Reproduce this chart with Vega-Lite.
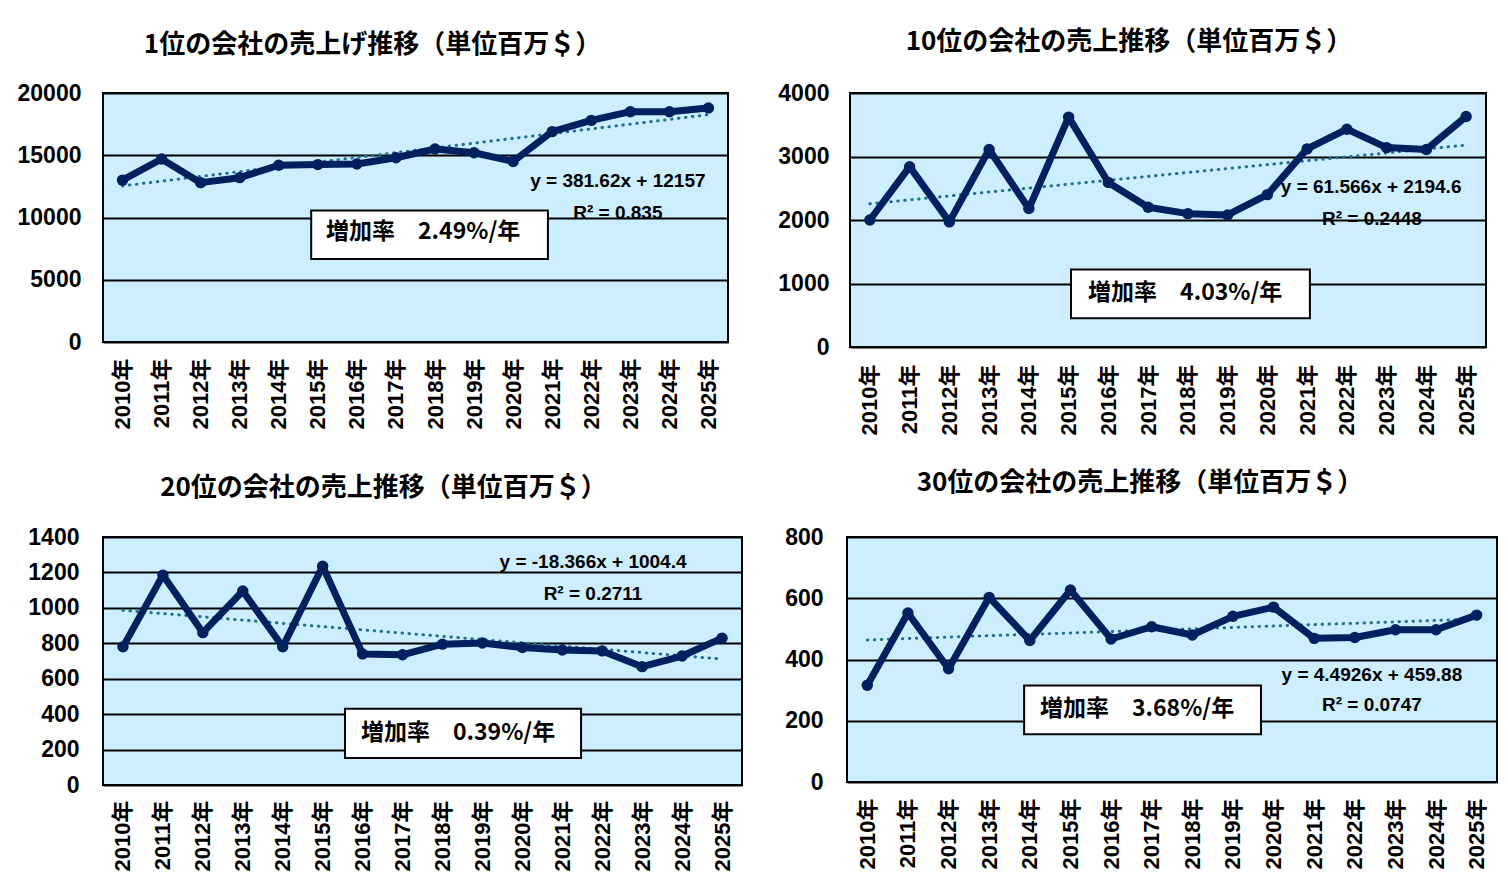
{
  "$schema": "https://vega.github.io/schema/vega-lite/v6.json",
  "padding": {"left": 16, "top": 28, "right": 5, "bottom": 5},
  "background": "white",
  "config": {
    "view": {"stroke": "black", "strokeWidth": 2, "fill": "#CCEEFF"},
    "axis": {"labelFont": "Liberation Sans, Noto Sans CJK JP", "labelFontWeight": "bold", "labelColor": "black", "domain": false, "ticks": false, "tickSize": 0, "title": null, "labelOverlap": false, "labelFlush": false, "labelBound": false},
    "axisY": {"grid": true, "gridColor": "black", "gridWidth": 2, "labelFontSize": 23},
    "axisX": {"grid": false, "labelFontSize": 22, "labelAngle": 270},
    "title": {"font": "Noto Sans CJK JP", "fontSize": 26, "fontWeight": "bold", "color": "black", "anchor": "middle", "frame": "group"},
    "text": {"font": "Liberation Sans", "fontWeight": "bold", "fontSize": 19, "color": "black"}
  },
  "datasets": {
    "sales": [
      {"rank": "1位", "year": 2010, "value": 13000}, {"rank": "1位", "year": 2011, "value": 14700},
      {"rank": "1位", "year": 2012, "value": 12800}, {"rank": "1位", "year": 2013, "value": 13200},
      {"rank": "1位", "year": 2014, "value": 14200}, {"rank": "1位", "year": 2015, "value": 14250},
      {"rank": "1位", "year": 2016, "value": 14300}, {"rank": "1位", "year": 2017, "value": 14800},
      {"rank": "1位", "year": 2018, "value": 15500}, {"rank": "1位", "year": 2019, "value": 15200},
      {"rank": "1位", "year": 2020, "value": 14500}, {"rank": "1位", "year": 2021, "value": 16900},
      {"rank": "1位", "year": 2022, "value": 17800}, {"rank": "1位", "year": 2023, "value": 18500},
      {"rank": "1位", "year": 2024, "value": 18500}, {"rank": "1位", "year": 2025, "value": 18800},
      {"rank": "10位", "year": 2010, "value": 2000}, {"rank": "10位", "year": 2011, "value": 2840},
      {"rank": "10位", "year": 2012, "value": 1970}, {"rank": "10位", "year": 2013, "value": 3110},
      {"rank": "10位", "year": 2014, "value": 2180}, {"rank": "10位", "year": 2015, "value": 3620},
      {"rank": "10位", "year": 2016, "value": 2590}, {"rank": "10位", "year": 2017, "value": 2200},
      {"rank": "10位", "year": 2018, "value": 2100}, {"rank": "10位", "year": 2019, "value": 2080},
      {"rank": "10位", "year": 2020, "value": 2400}, {"rank": "10位", "year": 2021, "value": 3120},
      {"rank": "10位", "year": 2022, "value": 3430}, {"rank": "10位", "year": 2023, "value": 3140},
      {"rank": "10位", "year": 2024, "value": 3110}, {"rank": "10位", "year": 2025, "value": 3630},
      {"rank": "20位", "year": 2010, "value": 780}, {"rank": "20位", "year": 2011, "value": 1185},
      {"rank": "20位", "year": 2012, "value": 860}, {"rank": "20位", "year": 2013, "value": 1095},
      {"rank": "20位", "year": 2014, "value": 780}, {"rank": "20位", "year": 2015, "value": 1235},
      {"rank": "20位", "year": 2016, "value": 740}, {"rank": "20位", "year": 2017, "value": 735},
      {"rank": "20位", "year": 2018, "value": 795}, {"rank": "20位", "year": 2019, "value": 802},
      {"rank": "20位", "year": 2020, "value": 776}, {"rank": "20位", "year": 2021, "value": 762},
      {"rank": "20位", "year": 2022, "value": 757}, {"rank": "20位", "year": 2023, "value": 668},
      {"rank": "20位", "year": 2024, "value": 728}, {"rank": "20位", "year": 2025, "value": 829},
      {"rank": "30位", "year": 2010, "value": 316}, {"rank": "30位", "year": 2011, "value": 552},
      {"rank": "30位", "year": 2012, "value": 370}, {"rank": "30位", "year": 2013, "value": 603},
      {"rank": "30位", "year": 2014, "value": 462}, {"rank": "30位", "year": 2015, "value": 627},
      {"rank": "30位", "year": 2016, "value": 467}, {"rank": "30位", "year": 2017, "value": 507},
      {"rank": "30位", "year": 2018, "value": 480}, {"rank": "30位", "year": 2019, "value": 541},
      {"rank": "30位", "year": 2020, "value": 571}, {"rank": "30位", "year": 2021, "value": 469},
      {"rank": "30位", "year": 2022, "value": 472}, {"rank": "30位", "year": 2023, "value": 497},
      {"rank": "30位", "year": 2024, "value": 497}, {"rank": "30位", "year": 2025, "value": 545}
    ],
    "trend": [
      {"rank": "1位", "year": 2010, "value": 12539}, {"rank": "1位", "year": 2025, "value": 18263},
      {"rank": "10位", "year": 2010, "value": 2256}, {"rank": "10位", "year": 2025, "value": 3180},
      {"rank": "20位", "year": 2010, "value": 986}, {"rank": "20位", "year": 2025, "value": 711},
      {"rank": "30位", "year": 2010, "value": 464}, {"rank": "30位", "year": 2025, "value": 532}
    ]
  },
  "vconcat": [
    {
      "hconcat": [
        {
          "width": 625, "height": 249,
          "title": {"text": "1位の会社の売上げ推移（単位百万＄）", "offset": 24, "dx": -43},
          "encoding": {
            "x": {"field": "year", "type": "quantitative", "scale": {"domain": [2009.5, 2025.5], "nice": false, "zero": false},
              "axis": {"values": [2010, 2011, 2012, 2013, 2014, 2015, 2016, 2017, 2018, 2019, 2020, 2021, 2022, 2023, 2024, 2025], "labelExpr": "datum.value + '年'", "labelPadding": 16}},
            "y": {"field": "value", "type": "quantitative", "scale": {"domain": [0, 20000], "nice": false},
              "axis": {"values": [0, 5000, 10000, 15000, 20000], "format": "d", "labelPadding": 22}}
          },
          "layer": [
            {
              "data": {"name": "trend"},
              "transform": [{"filter": {"field": "rank", "equal": "1位"}}],
              "mark": {"type": "line", "color": "#22708F", "strokeWidth": 3, "strokeDash": [0.5, 6.5], "strokeCap": "round"}
            },
            {
              "data": {"name": "sales"},
              "transform": [{"filter": {"field": "rank", "equal": "1位"}}],
              "mark": {"type": "line", "color": "#002060", "strokeWidth": 7, "strokeJoin": "round", "point": {"filled": true, "size": 130, "color": "#002060"}}
            },
            {
              "data": {"values": [{"note": "y = 381.62x + 12157", "year": 2022.68, "value": 12927}, {"note": "R² = 0.835", "year": 2022.68, "value": 10325}]},
              "mark": {"type": "text"},
              "encoding": {"text": {"field": "note"}}
            },
            {
              "data": {"values": [{"year": 2014.83, "year2": 2020.89, "value": 10569, "value2": 6667}]},
              "mark": {"type": "rect", "fill": "white", "stroke": "black", "strokeWidth": 2},
              "encoding": {"x2": {"field": "year2"}, "y2": {"field": "value2"}}
            },
            {
              "data": {"values": [{"note": "増加率　2.49%/年", "year": 2015.21, "value": 8862}]},
              "mark": {"type": "text", "align": "left", "font": "Noto Sans CJK JP", "fontSize": 23},
              "encoding": {"text": {"field": "note"}}
            }
          ]
        },
        {
          "width": 636, "height": 254,
          "title": {"text": "10位の会社の売上推移（単位百万＄）", "offset": 27, "dx": -39},
          "encoding": {
            "x": {"field": "year", "type": "quantitative", "scale": {"domain": [2009.5, 2025.5], "nice": false, "zero": false},
              "axis": {"values": [2010, 2011, 2012, 2013, 2014, 2015, 2016, 2017, 2018, 2019, 2020, 2021, 2022, 2023, 2024, 2025], "labelExpr": "datum.value + '年'", "labelPadding": 17}},
            "y": {"field": "value", "type": "quantitative", "scale": {"domain": [0, 4000], "nice": false},
              "axis": {"values": [0, 1000, 2000, 3000, 4000], "format": "d", "labelPadding": 21}}
          },
          "layer": [
            {
              "data": {"name": "trend"},
              "transform": [{"filter": {"field": "rank", "equal": "10位"}}],
              "mark": {"type": "line", "color": "#22708F", "strokeWidth": 3, "strokeDash": [0.5, 6.5], "strokeCap": "round"}
            },
            {
              "data": {"name": "sales"},
              "transform": [{"filter": {"field": "rank", "equal": "10位"}}],
              "mark": {"type": "line", "color": "#002060", "strokeWidth": 7, "strokeJoin": "round", "point": {"filled": true, "size": 130, "color": "#002060"}}
            },
            {
              "data": {"values": [{"note": "y = 61.566x + 2194.6", "year": 2022.61, "value": 2516}, {"note": "R² = 0.2448", "year": 2022.63, "value": 2016}]},
              "mark": {"type": "text"},
              "encoding": {"text": {"field": "note"}}
            },
            {
              "data": {"values": [{"year": 2015.06, "year2": 2021.07, "value": 1219, "value2": 453}]},
              "mark": {"type": "rect", "fill": "white", "stroke": "black", "strokeWidth": 2},
              "encoding": {"x2": {"field": "year2"}, "y2": {"field": "value2"}}
            },
            {
              "data": {"values": [{"note": "増加率　4.03%/年", "year": 2015.49, "value": 844}]},
              "mark": {"type": "text", "align": "left", "font": "Noto Sans CJK JP", "fontSize": 23},
              "encoding": {"text": {"field": "note"}}
            }
          ]
        }
      ],
      "spacing": 47
    },
    {
      "hconcat": [
        {
          "width": 639, "height": 248,
          "title": {"text": "20位の会社の売上推移（単位百万＄）", "offset": 25, "dx": -39},
          "encoding": {
            "x": {"field": "year", "type": "quantitative", "scale": {"domain": [2009.5, 2025.5], "nice": false, "zero": false},
              "axis": {"values": [2010, 2011, 2012, 2013, 2014, 2015, 2016, 2017, 2018, 2019, 2020, 2021, 2022, 2023, 2024, 2025], "labelExpr": "datum.value + '年'", "labelPadding": 15}},
            "y": {"field": "value", "type": "quantitative", "scale": {"domain": [0, 1400], "nice": false},
              "axis": {"values": [0, 200, 400, 600, 800, 1000, 1200, 1400], "format": "d", "labelPadding": 24}}
          },
          "layer": [
            {
              "data": {"name": "trend"},
              "transform": [{"filter": {"field": "rank", "equal": "20位"}}],
              "mark": {"type": "line", "color": "#22708F", "strokeWidth": 3, "strokeDash": [0.5, 6.5], "strokeCap": "round"}
            },
            {
              "data": {"name": "sales"},
              "transform": [{"filter": {"field": "rank", "equal": "20位"}}],
              "mark": {"type": "line", "color": "#002060", "strokeWidth": 7, "strokeJoin": "round", "point": {"filled": true, "size": 130, "color": "#002060"}}
            },
            {
              "data": {"values": [{"note": "y = -18.366x + 1004.4", "year": 2021.77, "value": 1258}, {"note": "R² = 0.2711", "year": 2021.77, "value": 1077}]},
              "mark": {"type": "text"},
              "encoding": {"text": {"field": "note"}}
            },
            {
              "data": {"values": [{"year": 2015.56, "year2": 2021.47, "value": 431, "value2": 153}]},
              "mark": {"type": "rect", "fill": "white", "stroke": "black", "strokeWidth": 2},
              "encoding": {"x2": {"field": "year2"}, "y2": {"field": "value2"}}
            },
            {
              "data": {"values": [{"note": "増加率　0.39%/年", "year": 2015.96, "value": 295}]},
              "mark": {"type": "text", "align": "left", "font": "Noto Sans CJK JP", "fontSize": 23},
              "encoding": {"text": {"field": "note"}}
            }
          ]
        },
        {
          "width": 650, "height": 245,
          "title": {"text": "30位の会社の売上推移（単位百万＄）", "offset": 30, "dx": -32},
          "encoding": {
            "x": {"field": "year", "type": "quantitative", "scale": {"domain": [2009.5, 2025.5], "nice": false, "zero": false},
              "axis": {"values": [2010, 2011, 2012, 2013, 2014, 2015, 2016, 2017, 2018, 2019, 2020, 2021, 2022, 2023, 2024, 2025], "labelExpr": "datum.value + '年'", "labelPadding": 16}},
            "y": {"field": "value", "type": "quantitative", "scale": {"domain": [0, 800], "nice": false},
              "axis": {"values": [0, 200, 400, 600, 800], "format": "d", "labelPadding": 24}}
          },
          "layer": [
            {
              "data": {"name": "trend"},
              "transform": [{"filter": {"field": "rank", "equal": "30位"}}],
              "mark": {"type": "line", "color": "#22708F", "strokeWidth": 3, "strokeDash": [0.5, 6.5], "strokeCap": "round"}
            },
            {
              "data": {"name": "sales"},
              "transform": [{"filter": {"field": "rank", "equal": "30位"}}],
              "mark": {"type": "line", "color": "#002060", "strokeWidth": 7, "strokeJoin": "round", "point": {"filled": true, "size": 130, "color": "#002060"}}
            },
            {
              "data": {"values": [{"note": "y = 4.4926x + 459.88", "year": 2022.42, "value": 351}, {"note": "R² = 0.0747", "year": 2022.42, "value": 250}]},
              "mark": {"type": "text"},
              "encoding": {"text": {"field": "note"}}
            },
            {
              "data": {"values": [{"year": 2013.86, "year2": 2019.69, "value": 315, "value2": 156}]},
              "mark": {"type": "rect", "fill": "white", "stroke": "black", "strokeWidth": 2},
              "encoding": {"x2": {"field": "year2"}, "y2": {"field": "value2"}}
            },
            {
              "data": {"values": [{"note": "増加率　3.68%/年", "year": 2014.25, "value": 237}]},
              "mark": {"type": "text", "align": "left", "font": "Noto Sans CJK JP", "fontSize": 23},
              "encoding": {"text": {"field": "note"}}
            }
          ]
        }
      ],
      "spacing": 40
    }
  ],
  "spacing": 33
}
